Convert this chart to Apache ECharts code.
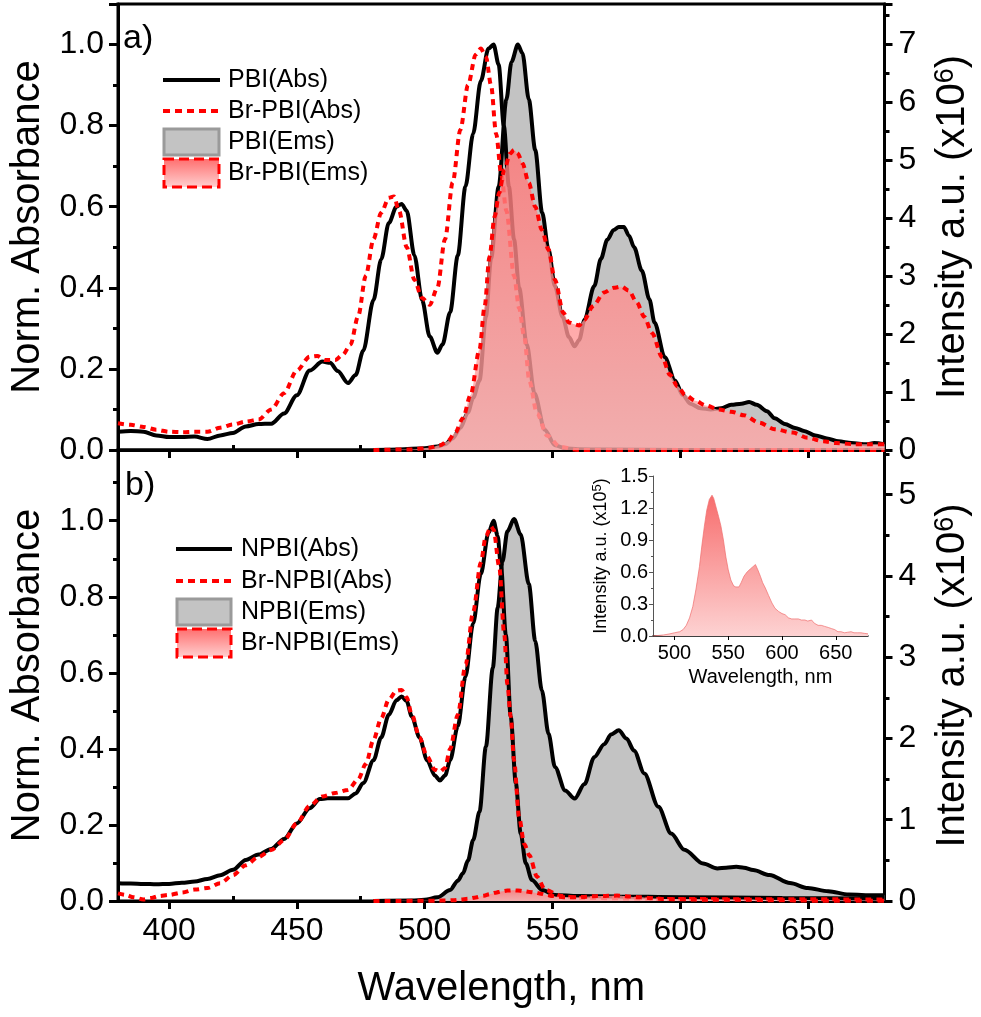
<!DOCTYPE html>
<html>
<head>
<meta charset="UTF-8">
<title>PBI spectra</title>
<style>
  html, body { margin: 0; padding: 0; background: #fff; }
</style>
</head>
<body>
<div id="main" style="width: 981px;height:1017px;"></div>
<script src="https://cdn.jsdelivr.net/npm/echarts@6/dist/echarts.min.js"></script>
<script>
// ---- panel a) ----
var wlPbiAbs = [380,385,390,395,400,405,410,415,420,425,430,435,440,445,450,455,460,463,466,470,473,476,480,483,486,489,491,493,496,499,502,505,507,510,513,516,519,522,525,527,529,531,533,535,537,540,543,547,551,555,560,570,600,680];
var pbiAbs   = [0.045,0.047,0.045,0.036,0.032,0.032,0.033,0.027,0.036,0.042,0.058,0.064,0.065,0.09,0.135,0.196,0.218,0.215,0.195,0.165,0.185,0.245,0.37,0.47,0.56,0.6,0.607,0.59,0.48,0.37,0.28,0.24,0.26,0.34,0.48,0.65,0.78,0.91,0.99,1.0,0.95,0.8,0.65,0.52,0.4,0.26,0.14,0.05,0.012,0.004,0.002,0.001,0.0,0.0];

var wlBrPbiAbs = [380,385,390,395,400,405,410,415,420,425,430,435,440,445,450,455,458,461,465,468,471,474,477,480,483,486,488,490,493,496,499,502,505,508,511,514,517,520,522,524,526,528,530,532,535,537,539,541,544,548,553,560,600,680];
var brPbiAbs   = [0.066,0.062,0.057,0.05,0.045,0.044,0.045,0.045,0.055,0.063,0.07,0.075,0.1,0.14,0.196,0.23,0.232,0.222,0.222,0.235,0.26,0.33,0.43,0.52,0.585,0.622,0.625,0.59,0.5,0.42,0.375,0.358,0.40,0.52,0.66,0.79,0.9,0.975,0.99,0.97,0.9,0.78,0.68,0.59,0.43,0.35,0.28,0.17,0.09,0.035,0.008,0.0,0.0,0.0];

var wlPbiEms = [480,490,500,505,508,511,514,517,519,521.5,524,526,529,532,534,536.5,538.3,540.8,543.3,546,548.5,551,554,556.5,558.7,560.5,562.6,566.4,569,571.5,574,576,578,580,582,585,588,590,594,598,601,604,608,612,616,620,624,627,630,634,637,641,645,648.5,653,657.5,662,667,673,676,680];
var pbiEms   = [0,0.01,0.03,0.06,0.1,0.2,0.38,0.65,0.9,1.2,2.3,3.3,4.55,6.05,6.7,7.0,6.85,6.05,5.18,4.1,3.46,2.83,2.3,1.95,1.79,1.9,2.25,2.83,3.3,3.63,3.8,3.85,3.85,3.7,3.5,3.1,2.6,2.2,1.6,1.2,0.95,0.8,0.72,0.7,0.72,0.78,0.8,0.83,0.78,0.67,0.55,0.45,0.38,0.33,0.25,0.2,0.15,0.12,0.1,0.12,0.1];

var wlBrPbiEms = [480,495,502,506,509,512,515,518,521.5,523.5,525.4,527.4,529.2,531.2,533.5,535,536.5,538.3,540.8,543.3,545.9,548.5,551,554.3,556.5,558.7,560.5,562.6,565.8,570.3,574,577,580,583,586,589,593,596,599,602,606,610,615,620,625,631,637,644,650,656,661,668,675,680];
var brPbiEms   = [0,0.01,0.04,0.08,0.15,0.3,0.55,0.95,1.74,2.48,3.34,4.03,4.44,4.84,5.12,5.18,5.12,4.95,4.61,4.2,3.8,3.46,2.94,2.37,2.2,2.17,2.15,2.25,2.48,2.72,2.8,2.82,2.75,2.55,2.3,2.02,1.6,1.3,1.1,0.95,0.85,0.77,0.7,0.66,0.6,0.47,0.36,0.3,0.21,0.15,0.12,0.1,0.1,0.1];

// ---- panel b) ----
var wlNpbiAbs = [380,385,390,395,400,405,410,415,420,425,430,435,440,445,450,455,459,462,466,470,473,476,480,483,486,489,491,493,495,498,501,504,506,508,510,513,516,519,522,525,527,528.6,529.9,531.8,533.7,535.7,537.6,539.6,542,546,551,560,575,600,640,680];
var npbiAbs   = [0.047,0.046,0.045,0.044,0.045,0.048,0.051,0.058,0.068,0.082,0.108,0.122,0.137,0.163,0.204,0.244,0.268,0.27,0.27,0.27,0.283,0.31,0.37,0.43,0.49,0.528,0.538,0.525,0.485,0.43,0.37,0.33,0.317,0.33,0.37,0.46,0.59,0.73,0.86,0.968,1.0,0.96,0.88,0.7,0.485,0.31,0.178,0.099,0.055,0.029,0.016,0.013,0.012,0.01,0.008,0.006];

var wlBrNpbiAbs = [380,383,386,390,393,396,400,405,410,415,420,425,430,435,440,445,450,455,460,465,470,474,477,480,483,486,489,491,493,495,498,501,504,506,508,510,513,516,519,522,524,526,527,529.2,531.2,532.4,533.7,535,537,539,541,544,547.2,553.7,560,600,680];
var brNpbiAbs   = [0.02,0.016,0.01,0.004,0.008,0.013,0.016,0.022,0.03,0.034,0.047,0.068,0.094,0.116,0.134,0.16,0.204,0.25,0.275,0.284,0.292,0.32,0.36,0.424,0.48,0.53,0.553,0.555,0.535,0.49,0.43,0.38,0.345,0.34,0.35,0.4,0.49,0.62,0.76,0.89,0.96,0.985,0.976,0.88,0.70,0.57,0.485,0.37,0.22,0.15,0.12,0.064,0.029,0.013,0.008,0.005,0.004];

var wlNpbiEms = [480,495,500,505,510,513,515,517,519,521.5,524,526.7,528.6,530.5,532.4,535,537.6,540.8,543.3,545.9,548.5,551,555,558.7,562.6,566.4,570.3,573,576,579,582,586,591.5,596.5,601.7,609,614.6,618,622,625,628.6,635,643,650,658,666,676,680];
var npbiEms   = [0,0.005,0.015,0.045,0.135,0.25,0.34,0.5,0.75,1.1,1.9,2.87,3.61,4.18,4.55,4.7,4.51,3.9,3.2,2.59,2.06,1.65,1.36,1.26,1.44,1.77,1.93,2.05,2.1,2.0,1.85,1.57,1.16,0.83,0.63,0.46,0.4,0.41,0.42,0.41,0.38,0.32,0.22,0.16,0.12,0.08,0.07,0.07];

// Br-NPBI emission, x10^5 (inset); main panel uses x10^6
var wlBrNpbiEms = [480,485,490,495.6,500,504.8,508,511,514,517,520,523.2,525.5,527.8,530,532.4,534.9,536.5,538.6,541,543.2,545.5,547.8,550,552.4,555,557,560,562,564.6,567.5,570.7,573,575.3,577.5,579.9,582,584.5,587.5,590.6,593.5,596.8,600,602.9,606,609,612,615.2,618,621.3,624,627.5,630,633.6,636.5,639.7,643,645.9,649,652,655,658.2,661,664.3,667,670.4,673.5,676.5,680];
var brNpbiEms   = [0,0.005,0.01,0.02,0.03,0.04,0.06,0.1,0.17,0.275,0.44,0.65,0.85,1.03,1.18,1.28,1.32,1.29,1.21,1.12,1.03,0.9,0.74,0.62,0.525,0.47,0.46,0.46,0.5,0.56,0.6,0.63,0.65,0.67,0.62,0.56,0.5,0.45,0.38,0.31,0.26,0.23,0.21,0.2,0.17,0.16,0.16,0.16,0.15,0.15,0.14,0.15,0.12,0.1,0.1,0.09,0.08,0.07,0.06,0.04,0.04,0.03,0.035,0.04,0.03,0.03,0.03,0.025,0.02];

var xMajor = [400,450,500,550,600,650];
var xMinor = [425,475,525,575,625,675];
var insetTicks = [500,550,600,650];

var legendA = ['PBI(Abs)', 'Br-PBI(Abs)', 'PBI(Ems)', 'Br-PBI(Ems)'];
var legendB = ['NPBI(Abs)', 'Br-NPBI(Abs)', 'NPBI(Ems)', 'Br-NPBI(Ems)'];
</script>
<script>
    function zip(xs, ys, k) {
        var out = [];
        for (var i = 0; i < xs.length; i++) out.push([xs[i], ys[i] * (k || 1)]);
        return out;
    }

    var FONT = 'Liberation Sans, Arial, sans-serif';
    var RED = '#ff0000';
    var GREY = '#c3c3c3';

    function pinkFill() {
        return new echarts.graphic.LinearGradient(0, 0, 0, 1, [
            {offset: 0, color: 'rgba(255,120,120,0.82)'},
            {offset: 1, color: 'rgba(255,168,168,0.78)'}
        ]);
    }

    var myChart = echarts.init(document.getElementById('main'));

    function mainX(gridIndex, showLabel) {
        return {
            type: 'value', gridIndex: gridIndex, min: 380, max: 680,
            axisLine: {show: true, onZero: false, lineStyle: {color: '#000', width: 3}},
            axisTick: {show: true, customValues: xMajor, length: 8, lineStyle: {color: '#000', width: 3}},
            axisLabel: {show: showLabel, customValues: xMajor, margin: 14, color: '#000', fontSize: 32, fontFamily: FONT},
            splitLine: {show: false}
        };
    }
    function minorX(gridIndex) {
        return {
            type: 'value', gridIndex: gridIndex, min: 380, max: 680,
            axisLine: {show: false},
            axisTick: {show: true, customValues: xMinor, length: 5, lineStyle: {color: '#000', width: 3}},
            axisLabel: {show: false},
            splitLine: {show: false}
        };
    }
    function leftY(gridIndex, max) {
        return {
            type: 'value', gridIndex: gridIndex, position: 'left', min: 0, max: max, interval: 0.2,
            name: 'Norm. Absorbance', nameLocation: 'middle', nameGap: 70, nameRotate: 90,
            nameTextStyle: {fontSize: 40, fontFamily: FONT, color: '#000'},
            axisLine: {show: true, onZero: false, lineStyle: {color: '#000', width: 3}},
            axisTick: {show: true, length: 9, lineStyle: {color: '#000', width: 3}},
            minorTick: {show: true, splitNumber: 2, length: 5, lineStyle: {color: '#000', width: 3}},
            axisLabel: {margin: 14, color: '#000', fontSize: 32, fontFamily: FONT, showMaxLabel: false,
                formatter: function (v) { return v.toFixed(1); }},
            splitLine: {show: false}
        };
    }
    function rightY(gridIndex, max) {
        return {
            type: 'value', gridIndex: gridIndex, position: 'right', min: 0, max: max, interval: 1,
            name: '{a|Intensity a.u. (x10}{s|6}{a|)}', nameLocation: 'middle', nameGap: 48, nameRotate: 90,
            nameTextStyle: {
                fontFamily: FONT, color: '#000',
                rich: {
                    a: {fontSize: 40, fontFamily: FONT, color: '#000'},
                    s: {fontSize: 27, fontFamily: FONT, color: '#000', verticalAlign: 'top', padding: [0, 0, 14, 0]}
                }
            },
            axisLine: {show: true, onZero: false, lineStyle: {color: '#000', width: 3}},
            axisTick: {show: true, length: 8, lineStyle: {color: '#000', width: 3}},
            minorTick: {show: true, splitNumber: 2, length: 5, lineStyle: {color: '#000', width: 3}},
            axisLabel: {margin: 14, color: '#000', fontSize: 32, fontFamily: FONT, showMaxLabel: false},
            splitLine: {show: false}
        };
    }

    function lineSeries(name, x, y, data, dotted) {
        return {
            name: name, type: 'line', xAxisIndex: x, yAxisIndex: y, data: data,
            showSymbol: false, smooth: 0.3, smoothMonotone: 'x', silent: true, z: 2,
            lineStyle: dotted ? {color: RED, width: 4, type: [6, 5]} : {color: '#000', width: 4}
        };
    }
    function emsSeries(name, x, y, data, pink) {
        return {
            name: name, type: 'line', xAxisIndex: x, yAxisIndex: y, data: data,
            showSymbol: false, smooth: 0.3, smoothMonotone: 'x', silent: true,
            // the pink emission sits over everything drawn before it
            z: pink ? 3 : 1,
            lineStyle: pink ? {color: RED, width: 4, type: [6, 5]} : {color: '#000', width: 4},
            areaStyle: pink ? {color: pinkFill(), opacity: 1} : {color: GREY, opacity: 1}
        };
    }

    // hand drawn legend boxes
    function legendGraphics(x0, x1, tx, ys, labels) {
        var g = [];
        g.push({type: 'line', shape: {x1: x0, y1: ys[0], x2: x1, y2: ys[0]}, style: {stroke: '#000', lineWidth: 4}});
        g.push({type: 'line', shape: {x1: x0, y1: ys[1], x2: x1, y2: ys[1]}, style: {stroke: RED, lineWidth: 4, lineDash: [7, 5]}});
        g.push({type: 'rect', shape: {x: x0 + 1, y: ys[2] - 13, width: x1 - x0 - 2, height: 26},
            style: {fill: GREY, stroke: '#9a9a9a', lineWidth: 3}});
        g.push({type: 'rect', shape: {x: x0 + 1, y: ys[3] - 14, width: x1 - x0 - 2, height: 28},
            style: {
                fill: new echarts.graphic.LinearGradient(0, 0, 0, 1, [
                    {offset: 0, color: '#ff6a6a'}, {offset: 1, color: '#ffd4d4'}
                ]),
                stroke: RED, lineWidth: 3, lineDash: [10, 5]
            }});
        for (var i = 0; i < labels.length; i++) {
            g.push({type: 'text', x: tx, y: ys[i],
                style: {text: labels[i], fontSize: 25, fontFamily: FONT, fill: '#000', verticalAlign: 'middle'}});
        }
        return g;
    }

    var graphics = []
        .concat(legendGraphics(163, 220, 228, [80, 111, 142, 173], legendA))
        .concat(legendGraphics(176, 232, 241, [549, 581, 612, 643], legendB));
    graphics.push({type: 'text', x: 123, y: 39, style: {text: 'a)', fontSize: 34, fontFamily: FONT, fill: '#000', verticalAlign: 'middle'}});
    graphics.push({type: 'text', x: 125, y: 486, style: {text: 'b)', fontSize: 34, fontFamily: FONT, fill: '#000', verticalAlign: 'middle'}});

    var option = {
        backgroundColor: '#fff',
        animation: false,
        grid: [
            {left: 112, right: 93, top: 4, height: 446, show: true, borderColor: '#000', borderWidth: 3},
            {left: 112, right: 93, top: 450, height: 451, show: true, borderColor: '#000', borderWidth: 3},
            {left: 653, top: 476, width: 215, height: 160}
        ],
        xAxis: [
            mainX(0, false),
            minorX(0),
            (function () {
                var a = mainX(1, true);
                a.name = 'Wavelength, nm';
                a.nameLocation = 'middle';
                a.nameGap = 68;
                a.nameTextStyle = {fontSize: 40, fontFamily: FONT, color: '#000'};
                return a;
            })(),
            minorX(1),
            {
                type: 'value', gridIndex: 2, min: 480, max: 680,
                name: 'Wavelength, nm', nameLocation: 'middle', nameGap: 31,
                nameTextStyle: {fontSize: 20, fontFamily: FONT, color: '#000'},
                axisLine: {show: true, onZero: false, lineStyle: {color: '#000', width: 1.5}},
                axisTick: {show: true, customValues: insetTicks, length: 4, lineStyle: {color: '#000', width: 1}},
                axisLabel: {customValues: insetTicks, margin: 7, color: '#000', fontSize: 20, fontFamily: FONT},
                splitLine: {show: false}
            }
        ],
        yAxis: [
            leftY(0, 1.1),
            rightY(0, 7.7),
            leftY(1, 1.186),
            rightY(1, 5.55),
            {
                type: 'value', gridIndex: 2, min: 0, max: 1.5, interval: 0.3,
                name: '{a|Intensity a.u. (x10}{s|5}{a|)}', nameLocation: 'middle', nameGap: 42, nameRotate: 90,
                nameTextStyle: {
                    fontFamily: FONT, color: '#000',
                    rich: {
                        a: {fontSize: 18, fontFamily: FONT, color: '#000'},
                        s: {fontSize: 13, fontFamily: FONT, color: '#000', verticalAlign: 'top', padding: [0, 0, 7, 0]}
                    }
                },
                axisLine: {show: true, onZero: false, lineStyle: {color: '#555', width: 1}},
                axisTick: {show: true, length: 4, lineStyle: {color: '#555', width: 1}},
                minorTick: {show: true, splitNumber: 2, length: 2, lineStyle: {color: '#555', width: 1}},
                axisLabel: {margin: 5, color: '#000', fontSize: 20, fontFamily: FONT,
                    formatter: function (v) { return v.toFixed(1); }},
                splitLine: {show: false}
            }
        ],
        series: [
            emsSeries('PBI(Ems)', 0, 1, zip(wlPbiEms, pbiEms), false),
            lineSeries('PBI(Abs)', 0, 0, zip(wlPbiAbs, pbiAbs), false),
            lineSeries('Br-PBI(Abs)', 0, 0, zip(wlBrPbiAbs, brPbiAbs), true),
            emsSeries('Br-PBI(Ems)', 0, 1, zip(wlBrPbiEms, brPbiEms), true),

            emsSeries('NPBI(Ems)', 2, 3, zip(wlNpbiEms, npbiEms), false),
            lineSeries('NPBI(Abs)', 2, 2, zip(wlNpbiAbs, npbiAbs), false),
            lineSeries('Br-NPBI(Abs)', 2, 2, zip(wlBrNpbiAbs, brNpbiAbs), true),
            emsSeries('Br-NPBI(Ems)', 2, 3, zip(wlBrNpbiEms, brNpbiEms, 0.1), true),

            {
                name: 'Br-NPBI(Ems) inset', type: 'line', xAxisIndex: 4, yAxisIndex: 4,
                data: zip(wlBrNpbiEms, brNpbiEms), showSymbol: false, silent: true, z: 3,
                lineStyle: {color: 'rgba(240,110,110,0.7)', width: 1},
                areaStyle: {
                    opacity: 1,
                    color: new echarts.graphic.LinearGradient(0, 0, 0, 1, [
                        {offset: 0, color: '#f76d6d'}, {offset: 1, color: '#fdd2d2'}
                    ])
                }
            }
        ],
        graphic: graphics
    };

    myChart.setOption(option);
</script>
</body>
</html>
